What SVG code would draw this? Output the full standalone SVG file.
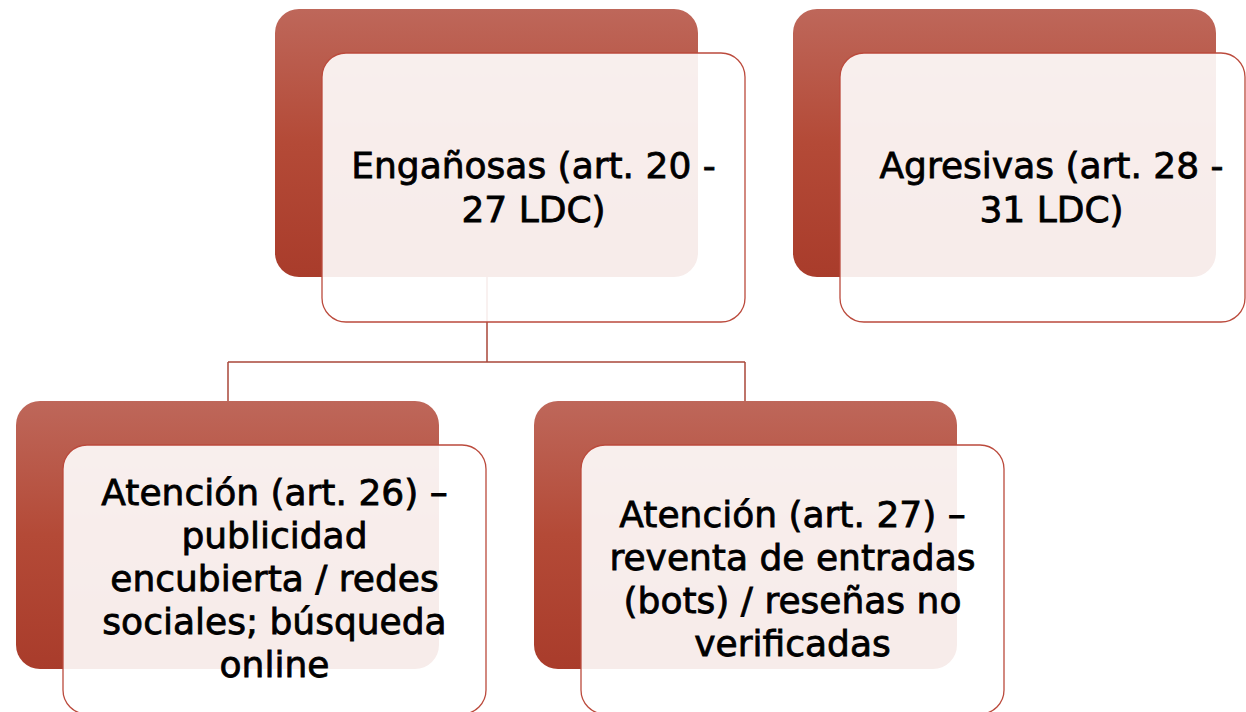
<svg xmlns="http://www.w3.org/2000/svg" width="1246" height="712" viewBox="0 0 1246 712">
<defs>
<linearGradient id="redGrad" x1="0" y1="0" x2="0" y2="1">
<stop offset="0" stop-color="#BE675A"/>
<stop offset="0.5" stop-color="#B44A37"/>
<stop offset="1" stop-color="#A93C2B"/>
</linearGradient>
</defs>
<style>
.back{fill:url(#redGrad);}
.front{fill:#FFFFFF;fill-opacity:0.9;stroke:#BB4A3C;stroke-width:1.3;}
.conn{fill:none;stroke:#A9473A;stroke-width:1.5;}
.lbl{font-family:"DejaVu Sans",sans-serif;font-size:36px;fill:#000000;stroke:#000000;stroke-width:0.8;text-anchor:middle;}
</style>
<rect width="1246" height="712" fill="#FFFFFF"/>
<g id="connectors">
<path class="conn" d="M487 277 V362 M228 362 H745 M228 362 V401 M745 362 V401"/>
</g>
<g id="node-enganosas">
<rect class="back" x="275" y="9" width="423" height="268" rx="24"/>
<rect class="front" x="322" y="53" width="423" height="269" rx="24"/>
<text class="lbl" x="533.5" y="178">Engañosas (art. 20 -</text>
<text class="lbl" x="533.5" y="222">27 LDC)</text>
</g>
<g id="node-agresivas">
<rect class="back" x="793" y="9" width="423" height="268" rx="24"/>
<rect class="front" x="840" y="53" width="405" height="269" rx="24"/>
<text class="lbl" x="1051.5" y="178">Agresivas (art. 28 -</text>
<text class="lbl" x="1051.5" y="222">31 LDC)</text>
</g>
<g id="node-art26">
<rect class="back" x="16" y="401" width="423" height="268" rx="24"/>
<rect class="front" x="63" y="445" width="423" height="269" rx="24"/>
<text class="lbl" x="274.5" y="505">Atención (art. 26) –</text>
<text class="lbl" x="274.5" y="548">publicidad</text>
<text class="lbl" x="274.5" y="591">encubierta / redes</text>
<text class="lbl" x="274.5" y="634">sociales; búsqueda</text>
<text class="lbl" x="274.5" y="677">online</text>
</g>
<g id="node-art27">
<rect class="back" x="534" y="401" width="423" height="268" rx="24"/>
<rect class="front" x="581" y="445" width="423" height="269" rx="24"/>
<text class="lbl" x="792.5" y="527">Atención (art. 27) –</text>
<text class="lbl" x="792.5" y="570">reventa de entradas</text>
<text class="lbl" x="792.5" y="613">(bots) / reseñas no</text>
<text class="lbl" x="792.5" y="656">verificadas</text>
</g>
</svg>
